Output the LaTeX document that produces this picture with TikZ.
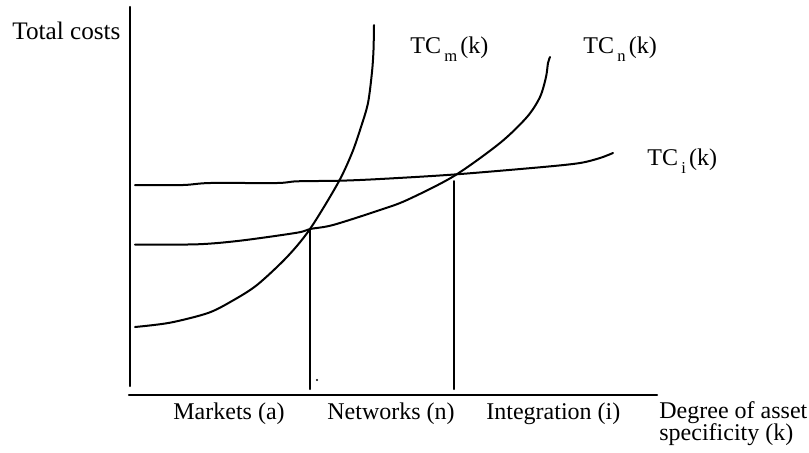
\documentclass[tikz,border=0pt]{standalone}
\usepackage{fontspec}
\setmainfont{Liberation Serif}
\newcommand\lowsub[1]{\hspace{1.6pt}\raisebox{-0.75ex}{\fontsize{8.3}{8.3}\selectfont #1}\hspace{1.6pt}}
\begin{document}
\begin{tikzpicture}[x=0.5pt,y=-0.5pt, line cap=round, line join=round,
  curve/.style={line width=1pt},
  axis/.style={line width=1.2pt},
  guide/.style={line width=1pt},
  lbl/.style={anchor=base west, inner sep=0pt, font=\fontsize{12}{14}\selectfont}]
\useasboundingbox (0,0) rectangle (809,452);

% axes
\coordinate (ytop) at (130,7);
\coordinate (ybot) at (130,386);
\coordinate (xleft) at (129,395);
\coordinate (xright) at (657,395);
\draw[axis] (ytop) -- (ybot);
\draw[axis] (xleft) -- (xright);

% cost curves: markets, networks, integration
\draw[curve] plot[smooth, tension=0.5] coordinates {(135,327) (170,322.7) (208,313) (232,301) (257,285) (287,257) (310,229) (338,183) (352,153) (361,127) (368,103) (372,72) (373.5,50) (374,25)};
\draw[curve] plot[smooth, tension=0.5] coordinates {(135,244.5) (197,244.3) (240,240.7) (297,232.7) (310,229) (333,225) (380,210) (407,200) (454,176) (500,143) (527,117) (540,97) (546,77) (548,63) (550,57)};
\draw[curve] plot[smooth, tension=0.5] coordinates {(135,185) (183,185) (210,183) (277,183) (297,181.3) (340,180.7) (380,179) (454,174.5) (543,167) (580,163) (600,158) (613,153)};

% boundaries between governance forms
\coordinate (mn) at (310,229);
\coordinate (mnfoot) at (310,389);
\coordinate (ni) at (454,181);
\coordinate (nifoot) at (454,389);
\draw[guide] (mn) -- (mnfoot);
\draw[guide] (ni) -- (nifoot);
\fill (317,380) circle (1.2);

% labels
\node[lbl, font=\fontsize{12.6}{14}\selectfont] (ylab) at (12,39) {Total costs};
\node[lbl] (tcm) at (410,53) {TC\lowsub{m}(k)};
\node[lbl] (tcn) at (583,53) {TC\lowsub{n}(k)};
\node[lbl] (tci) at (647,165) {TC\lowsub{i}(k)};
\node[lbl] (mkt) at (173,419) {Markets (a)};
\node[lbl] (net) at (327,419) {Networks (n)};
\node[lbl] (int) at (486,419) {Integration (i)};
\node[lbl] (xlab1) at (659,418) {Degree of asset};
\node[lbl] (xlab2) at (659,440) {specificity (k)};
\end{tikzpicture}
\end{document}
